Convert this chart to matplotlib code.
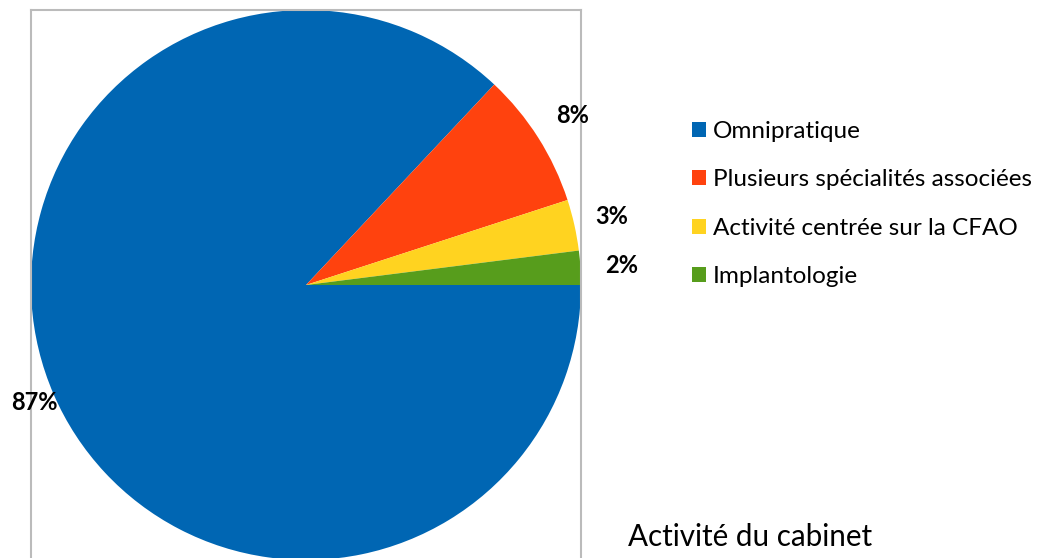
import numpy as np
import matplotlib
matplotlib.use("Agg")
import matplotlib.pyplot as plt

categories = ["Omnipratique", "Plusieurs spécialités associées",
              "Activité centrée sur la CFAO", "Implantologie"]
values = [87, 8, 3, 2]
pct_labels = ["87%", "8%", "3%", "2%"]
colors = ["#0066B3", "#FF420E", "#FFD320", "#579D1C"]
label_radius = [1.075, 1.15, 1.14, 1.15]

plt.rcParams["font.family"] = ["Lato", "DejaVu Sans"]

W, H = 1043, 558
fig = plt.figure(figsize=(W / 100, H / 100), dpi=100)

# axes box in pixels: x 31..581, y 10..580 (runs past bottom edge)
x0, x1, ytop, ybot = 31, 581, 10, 580
ax = fig.add_axes([x0 / W, (H - ybot) / H, (x1 - x0) / W, (ybot - ytop) / H])
wedges, _ = ax.pie(values, colors=colors, startangle=0, counterclock=False,
                   radius=1.0, wedgeprops=dict(linewidth=0))
ax.set_aspect("auto")
ax.set_xlim(-1, 1)
ax.set_ylim(-(ybot - 285) / 275, 1)
ax.set_xticks([]); ax.set_yticks([])
ax.set_frame_on(True)
for s in ax.spines.values():
    s.set_visible(True)
    s.set_color("#BBBBBB"); s.set_linewidth(1.5)

for w, lab, r in zip(wedges, pct_labels, label_radius):
    ang = np.deg2rad((w.theta1 + w.theta2) / 2)
    ax.text(r * np.cos(ang), r * np.sin(ang), lab, ha="center", va="center",
            fontsize=17, fontweight="bold", color="black", clip_on=False)

leg = fig.legend(wedges, categories, loc="upper left",
                 bbox_to_anchor=(670 / W, 1 - 99 / H), frameon=False,
                 fontsize=17.5, handlelength=0.57, handleheight=0.57,
                 handletextpad=0.3, labelspacing=1.13, borderpad=0.4)

fig.text(628 / W, 1 - 537 / H, "Activité du cabinet", fontsize=21.3,
         ha="left", va="center")

fig.savefig("out.png", dpi=100)
